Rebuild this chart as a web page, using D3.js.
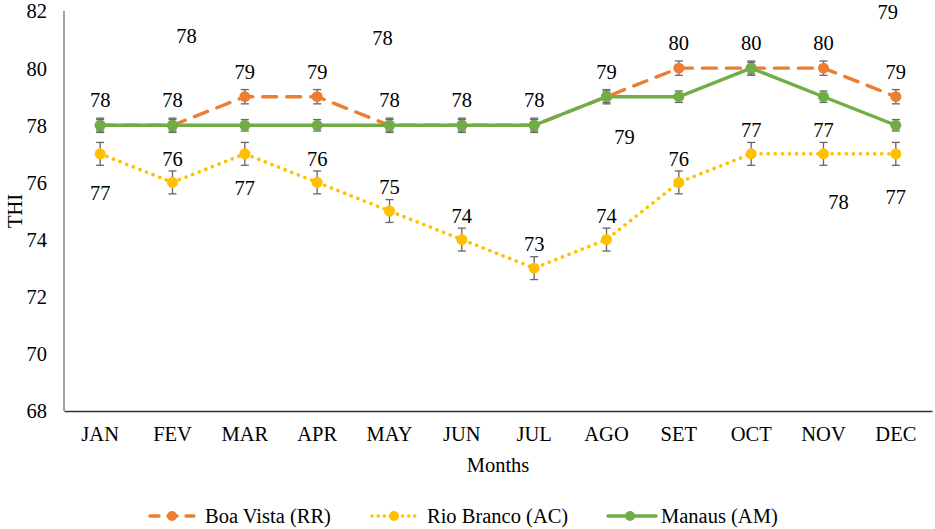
<!DOCTYPE html>
<html>
<head>
<meta charset="utf-8">
<script src="https://cdn.jsdelivr.net/npm/d3@7"></script>
<style>
  body { margin: 0; background: #fff; }
  svg text { fill: #000; }
</style>
</head>
<body>
<div id="container"></div>
<script>
/* DATA */
const months = ["JAN", "FEV", "MAR", "APR", "MAY", "JUN", "JUL", "AGO", "SET", "OCT", "NOV", "DEC"];
const boaVista = [78, 78, 79, 79, 78, 78, 78, 79, 80, 80, 80, 79];
const rioBranco = [77, 76, 77, 76, 75, 74, 73, 74, 76, 77, 77, 77];
const manaus = [78, 78, 78, 78, 78, 78, 78, 79, 79, 80, 79, 78];
const boaVistaErr = 0.25;
const rioBrancoErr = 0.4;
const manausErr = 0.2;
const yTicks = [68, 70, 72, 74, 76, 78, 80, 82];
// stray (moved) data labels as they appear in the figure
const strayMonths = ["FEV", "MAY", "AGO", "NOV", "DEC"];
const strayText = ["78", "78", "79", "78", "79"];
// rio branco labels that sit below the point
const rioBelow = ["JAN", "MAR", "DEC"];

/* CONSTANTS */
const width = 935, height = 529;
const margin = {top: 11, bottom: 118, left: 64, right: 3};
const font = "'Liberation Serif', 'Times New Roman', Times, serif";
const fs = 20.5;

const svg = d3.select("#container").append("svg")
  .attr("width", width).attr("height", height)
  .attr("font-family", font);

const xScale = d3.scaleBand()
  .domain(months)
  .range([margin.left, width - margin.right]);

const yScale = d3.scaleLinear()
  .domain([68, 82])
  .range([height - margin.bottom, margin.top]);

const cx = m => xScale(m) + xScale.bandwidth() / 2;

// axes
const yAxis = d3.axisLeft(yScale).tickValues(yTicks).tickSize(0).tickPadding(17);
svg.append("g")
  .attr("transform", `translate(${margin.left},0)`)
  .call(yAxis)
  .attr("font-family", font)
  .call(g => g.select(".domain").attr("stroke", "#555").attr("stroke-width", 1.1).attr("d", `M0,${yScale(68)}V${yScale(82)}`))
  .call(g => g.selectAll("text").attr("font-size", fs).attr("dy", "0.34em"));

const xAxis = d3.axisBottom(xScale).tickSize(0).tickPadding(16);
svg.append("g")
  .attr("transform", `translate(0,${yScale(68)})`)
  .call(xAxis)
  .attr("font-family", font)
  .call(g => g.select(".domain").attr("stroke", "#333").attr("stroke-width", 1.6))
  .call(g => g.selectAll("text").attr("font-size", fs).attr("dy", "0.7em"));

svg.append("text")
  .attr("transform", `translate(15,${(yScale(68) + yScale(82)) / 2}) rotate(-90)`)
  .attr("text-anchor", "middle").attr("dy", "0.35em")
  .attr("font-size", fs).text("THI");

svg.append("text")
  .attr("x", (margin.left + width - margin.right) / 2).attr("y", 465)
  .attr("dy", "0.35em")
  .attr("text-anchor", "middle").attr("font-size", fs).text("Months");

/* SERIES */
const series = [
  {name: "Boa Vista (RR)", values: boaVista, err: boaVistaErr, color: "#ED7D31", dash: "14,10", cap: "round"},
  {name: "Rio Branco (AC)", values: rioBranco, err: rioBrancoErr, color: "#FFC000", dash: "0.1,7", cap: "round"},
  {name: "Manaus (AM)", values: manaus, err: manausErr, color: "#70AD47", dash: null, cap: "round"}
];

const line = d3.line().x(d => cx(d.m)).y(d => yScale(d.v));

series.forEach(s => {
  const pts = months.map((m, i) => ({m: m, v: s.values[i]}));
  const g = svg.append("g");
  g.append("path")
    .datum(pts)
    .attr("d", line)
    .attr("fill", "none")
    .attr("stroke", s.color)
    .attr("stroke-width", s.dash && s.dash.startsWith("0.1") ? 3.6 : 3.4)
    .attr("stroke-dasharray", s.dash)
    .attr("stroke-linecap", s.cap);

  // error bars
  const eb = g.selectAll(".eb").data(pts).join("g").attr("class", "eb").attr("stroke", "#666").attr("stroke-width", 1.3);
  eb.append("line")
    .attr("x1", d => cx(d.m)).attr("x2", d => cx(d.m))
    .attr("y1", d => yScale(d.v - s.err)).attr("y2", d => yScale(d.v + s.err));
  eb.append("line")
    .attr("x1", d => cx(d.m) - 4).attr("x2", d => cx(d.m) + 4)
    .attr("y1", d => yScale(d.v - s.err)).attr("y2", d => yScale(d.v - s.err));
  eb.append("line")
    .attr("x1", d => cx(d.m) - 4).attr("x2", d => cx(d.m) + 4)
    .attr("y1", d => yScale(d.v + s.err)).attr("y2", d => yScale(d.v + s.err));

  g.selectAll("circle").data(pts).join("circle")
    .attr("cx", d => cx(d.m)).attr("cy", d => yScale(d.v))
    .attr("r", 5.5).attr("fill", s.color);
});

/* DATA LABELS */
svg.append("g").selectAll("text")
  .data(months.map((m, i) => ({m: m, v: boaVista[i]})))
  .join("text")
  .attr("x", d => cx(d.m)).attr("y", d => yScale(d.v) - 25)
  .attr("dy", "0.35em")
  .attr("text-anchor", "middle").attr("font-size", fs)
  .text(d => d.v);

// extra drop for the labels placed under the rio branco points
const rioBelowDy = [39, 34, 43];
svg.append("g").selectAll("text")
  .data(months.map((m, i) => ({m: m, v: rioBranco[i]})))
  .join("text")
  .attr("x", d => cx(d.m))
  .attr("y", d => rioBelow.includes(d.m) ? yScale(d.v) + rioBelowDy[rioBelow.indexOf(d.m)] : yScale(d.v) - 24)
  .attr("dy", "0.35em")
  .attr("text-anchor", "middle").attr("font-size", fs)
  .text(d => d.v);

// stray labels, placed where they appear in the figure
const strayDx = [14, -7, 18, 15, -8];
const strayAt = [81.13, 81.05, 77.6, 75.33, 81.97];
svg.append("g").selectAll("text")
  .data(strayMonths.map((m, i) => ({m: m, t: strayText[i], dx: strayDx[i], at: strayAt[i]})))
  .join("text")
  .attr("x", d => cx(d.m) + d.dx).attr("y", d => yScale(d.at))
  .attr("dy", "0.35em")
  .attr("text-anchor", "middle").attr("font-size", fs)
  .text(d => d.t);

/* LEGEND */
const legendX = [149, 371, 607];
const legend = svg.append("g").attr("transform", "translate(0,516)");
series.forEach((s, i) => {
  const lg = legend.append("g").attr("transform", `translate(${legendX[i]},0)`);
  lg.append("line")
    .attr("x1", 1).attr("x2", i === 2 ? 49 : 45).attr("y1", 0).attr("y2", 0)
    .attr("stroke", s.color).attr("stroke-width", 3.4)
    .attr("stroke-dasharray", s.dash ? (i === 0 ? "9,9" : "0.1,6") : null)
    .attr("stroke-linecap", s.cap);
  lg.append("circle").attr("cx", 23).attr("cy", 0).attr("r", 5).attr("fill", s.color);
  lg.append("text")
    .attr("x", i === 2 ? 54 : 56).attr("y", 0).attr("dy", "0.35em")
    .attr("font-size", fs).text(s.name);
});
</script>
</body>
</html>
